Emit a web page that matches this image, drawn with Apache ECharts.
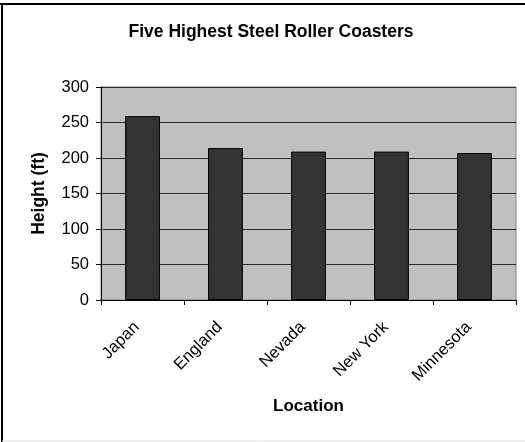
<!DOCTYPE html>
<html>
<head>
<meta charset="utf-8">
<script src="https://cdn.jsdelivr.net/npm/echarts@6/dist/echarts.min.js"></script>
<style>
html,body{margin:0;padding:0;background:#fff;}
#chart{width:525px;height:442px;}
</style>
</head>
<body>
<div id="chart"></div>
<script>
const categories = ['Japan', 'England', 'Nevada', 'New York', 'Minnesota'];
const heights = [259, 214, 209, 209, 207];
const yTicks = [0, 50, 100, 150, 200, 250, 300];

const chart = echarts.init(document.getElementById('chart'), null, {renderer: 'canvas'});
const font = '"Liberation Sans", Arial, sans-serif';
chart.setOption({
  animation: false,
  backgroundColor: '#ffffff',
  title: {
    text: 'Five Highest Steel Roller Coasters',
    left: 266, top: 18, textAlign: 'center',
    textStyle: {fontFamily: font, fontSize: 17.5, fontWeight: 'bold', color: '#000'}
  },
  graphic: [
    {type: 'line', shape: {x1: 0, y1: 4, x2: 525, y2: 4}, style: {stroke: '#000', lineWidth: 2}},
    {type: 'line', shape: {x1: 2, y1: 4, x2: 2, y2: 442}, style: {stroke: '#000', lineWidth: 2}},
    {type: 'line', shape: {x1: 2, y1: 441, x2: 525, y2: 441}, style: {stroke: '#e0e0e0', lineWidth: 1}}
  ],
  grid: {
    left: 101, right: 9, top: 87, bottom: 142,
    show: true, backgroundColor: '#c0c0c0', borderColor: '#808080', borderWidth: 1
  },
  xAxis: {
    type: 'category',
    data: categories,
    name: 'Location',
    nameLocation: 'middle',
    nameGap: 98,
    nameTextStyle: {fontFamily: font, fontSize: 17, fontWeight: 'bold', color: '#000'},
    axisLine: {lineStyle: {color: '#000', width: 1}},
    axisTick: {show: true, length: 5, alignWithLabel: false, lineStyle: {color: '#000'}},
    axisLabel: {rotate: 45, margin: 19, padding: [0, 8, 0, 0], fontFamily: font, fontSize: 16.5, color: '#000'},
    splitLine: {show: false}
  },
  yAxis: {
    type: 'value',
    min: 0, max: 300, interval: 50,
    name: 'Height (ft)',
    nameLocation: 'middle',
    nameGap: 53,
    nameRotate: 90,
    nameTextStyle: {fontFamily: font, fontSize: 17.5, fontWeight: 'bold', color: '#000'},
    axisLine: {show: true, lineStyle: {color: '#000', width: 1}},
    axisTick: {show: true, length: 5, lineStyle: {color: '#000'}},
    axisLabel: {
      margin: 12, fontFamily: font, fontSize: 16.5, color: '#000',
      formatter: v => yTicks.includes(v) ? String(v) : ''
    },
    splitLine: {show: true, lineStyle: {color: '#2a2a2a', width: 1}}
  },
  series: [{
    type: 'bar',
    data: heights,
    barCategoryGap: '58%',
    itemStyle: {color: '#333333', borderColor: '#000', borderWidth: 1}
  }]
});
</script>
</body>
</html>
